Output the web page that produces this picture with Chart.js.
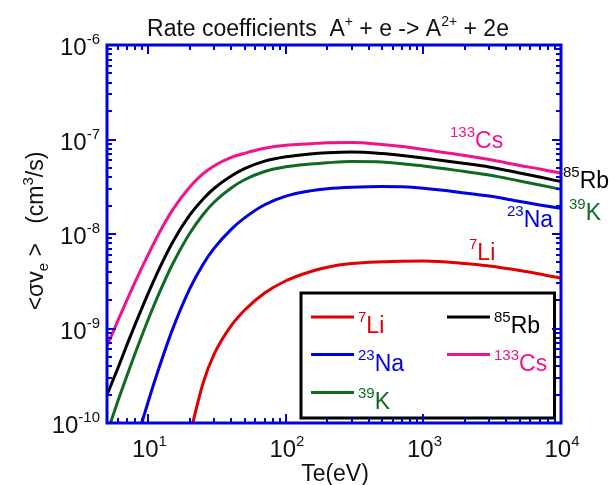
<!DOCTYPE html>
<html><head><meta charset="utf-8">
<script src="https://cdn.jsdelivr.net/npm/chart.js@4.4.0/dist/chart.umd.min.js"></script>
<style>html,body{margin:0;padding:0;background:#fff}</style>
</head><body>
<canvas id="c" width="609" height="485"></canvas>
<script>
// Electron temperature (eV)
const temperatures = [5,6,7,8,9,10,12,15,20,25,30,40,50,70,100,150,200,300,500,700,1000,2000,3000,5000,7000,10000];
// Rate coefficients (cm^3/s)
const li = [null,null,null,null,null,null,null,null,7.5e-11,2.65e-10,5.31e-10,1.07e-9,1.56e-9,2.37e-9,3.20e-9,3.99e-9,4.45e-9,4.86e-9,5.08e-9,5.15e-9,5.17e-9,4.88e-9,4.58e-9,4.11e-9,3.78e-9,3.4e-9];
const na = [null,null,null,5.7e-11,1.03e-10,1.71e-10,3.91e-10,9.84e-10,2.64e-9,4.79e-9,7.05e-9,1.12e-8,1.48e-8,2.04e-8,2.52e-8,2.86e-8,3.01e-8,3.12e-8,3.18e-8,3.16e-8,3.05e-8,2.72e-8,2.52e-8,2.21e-8,2.03e-8,1.87e-8];
const k  = [7.8e-11,1.71e-10,3.21e-10,5.45e-10,8.53e-10,1.26e-9,2.38e-9,4.81e-9,1.02e-8,1.61e-8,2.17e-8,3.07e-8,3.75e-8,4.59e-8,5.15e-8,5.5e-8,5.68e-8,5.85e-8,5.78e-8,5.53e-8,5.25e-8,4.58e-8,4.21e-8,3.64e-8,3.3e-8,2.97e-8];
const rb = [1.98e-10,3.81e-10,6.79e-10,1.10e-9,1.66e-9,2.38e-9,4.30e-9,8.2e-9,1.59e-8,2.35e-8,3.03e-8,4.10e-8,4.91e-8,5.90e-8,6.56e-8,7.03e-8,7.24e-8,7.38e-8,7.11e-8,6.78e-8,6.37e-8,5.57e-8,5.12e-8,4.43e-8,4.01e-8,3.58e-8];
const cs = [6.5e-10,1.21e-9,2.02e-9,3.10e-9,4.47e-9,6.12e-9,1.03e-8,1.80e-8,3.14e-8,4.35e-8,5.25e-8,6.46e-8,7.14e-8,8.07e-8,8.69e-8,9.0e-8,9.25e-8,9.29e-8,8.86e-8,8.43e-8,7.83e-8,6.78e-8,6.14e-8,5.31e-8,4.88e-8,4.39e-8];

const seriesMass = ['7','23','39','85','133'];
const seriesName = ['Li','Na','K','Rb','Cs'];
const xTickValues = [10,100,1000,10000];
const xTickExp = ['1','2','3','4'];
const yTickValues = [1e-6,1e-7,1e-8,1e-9,1e-10];
const yTickExp = ['-6','-7','-8','-9','-10'];
const xMin = 5, xMax = 10000, yMin = 1e-10, yMax = 1e-6;

const COLORS = ['#e00000','#0000e0','#0f6b22','#000000','#f0138a'];
const AXIS = '#0000e0';
const FONT = '"Liberation Sans", Arial, sans-serif';
const MAIN = 23, SMALL = 15, TICK = 24;

const allSeries = [li, na, k, rb, cs];
const datasets = allSeries.map((s, i) => ({
  label: seriesName[i],
  data: temperatures.map((t, j) => ({x: t, y: s[j]})),
  borderColor: COLORS[i],
  borderWidth: 3,
  pointRadius: 0,
  fill: false,
  spanGaps: false,
  cubicInterpolationMode: 'monotone'
}));

function rich(ctx, segs, x, y, align) {
  let w = 0;
  for (const s of segs) { ctx.font = s[1] + 'px ' + FONT; w += ctx.measureText(s[0]).width; }
  let cx = align === 'right' ? x - w : align === 'center' ? x - w / 2 : x;
  for (const s of segs) {
    ctx.font = s[1] + 'px ' + FONT;
    ctx.fillText(s[0], cx, y + (s[2] || 0));
    cx += ctx.measureText(s[0]).width;
  }
  return w;
}

const decor = {
  id: 'decor',
  afterDatasetsDraw(chart) {
    const {ctx, chartArea: a, scales: {x, y}} = chart;
    ctx.save();
    // legend box
    const L = {l: 301, t: 293, r: 554.5, b: 418};
    ctx.fillStyle = '#fff';
    ctx.fillRect(L.l, L.t, L.r - L.l, L.b - L.t);
    ctx.strokeStyle = '#000'; ctx.lineWidth = 3;
    ctx.strokeRect(L.l, L.t, L.r - L.l, L.b - L.t);
    const pos = [[311, 317], [311, 354.5], [311, 392.5], [447, 317], [447, 354.5]];
    ctx.textBaseline = 'alphabetic';
    pos.forEach((p, i) => {
      ctx.strokeStyle = COLORS[i]; ctx.lineWidth = 3;
      ctx.beginPath(); ctx.moveTo(p[0], p[1]); ctx.lineTo(p[0] + 43, p[1]); ctx.stroke();
      ctx.fillStyle = COLORS[i];
      rich(ctx, [[seriesMass[i], SMALL, -11], [seriesName[i], MAIN, 0]], p[0] + 47, p[1] + 16, 'left');
    });
    // frame
    ctx.strokeStyle = AXIS; ctx.lineWidth = 3;
    ctx.strokeRect(a.left, a.top, a.right - a.left, a.bottom - a.top);
    ctx.lineWidth = 2;
    const seg = (x1, y1, x2, y2) => { ctx.beginPath(); ctx.moveTo(x1, y1); ctx.lineTo(x2, y2); ctx.stroke(); };
    for (let d = 0; d <= 4; d++) for (let m = 1; m <= 9; m++) {
      const v = m * Math.pow(10, d);
      if (v <= xMin || v >= xMax) continue;
      const px = Math.round(x.getPixelForValue(v));
      const len = m === 1 ? 9 : 5;
      seg(px, a.bottom, px, a.bottom - len);
      seg(px, a.top, px, a.top + len);
    }
    for (let d = -10; d <= -7; d++) for (let m = 1; m <= 9; m++) {
      const v = m * Math.pow(10, d);
      if (v <= yMin || v >= yMax) continue;
      const py = Math.round(y.getPixelForValue(v));
      const len = m === 1 ? 9 : 5;
      seg(a.left, py, a.left + len, py);
      seg(a.right, py, a.right - len, py);
    }
    ctx.restore();
  },
  afterDraw(chart) {
    const {ctx, chartArea: a, scales: {x, y}} = chart;
    ctx.save();
    ctx.fillStyle = '#111';
    ctx.textBaseline = 'alphabetic';
    // y tick labels
    yTickValues.forEach((v, i) => {
      const py = y.getPixelForValue(v);
      ctx.font = SMALL + 'px ' + FONT;
      const ew = ctx.measureText(yTickExp[i]).width;
      ctx.fillText(yTickExp[i], a.left - 7 - ew, py - 1);
      ctx.font = TICK + 'px ' + FONT;
      const bw = ctx.measureText('10').width;
      ctx.fillText('10', a.left - 7 - ew - bw, py + 10);
    });
    // x tick labels
    xTickValues.forEach((v, i) => {
      const px = x.getPixelForValue(v);
      ctx.font = TICK + 'px ' + FONT;
      const bw = ctx.measureText('10').width;
      ctx.font = SMALL + 'px ' + FONT;
      const ew = ctx.measureText(xTickExp[i]).width;
      const x0 = px - (bw + ew) / 2 + 1;
      ctx.font = TICK + 'px ' + FONT;
      ctx.fillText('10', x0, 457);
      ctx.font = SMALL + 'px ' + FONT;
      ctx.fillText(xTickExp[i], x0 + bw, 446);
    });
    // x title
    ctx.font = MAIN + 'px ' + FONT;
    ctx.textAlign = 'center';
    ctx.fillText('Te(eV)', (a.left + a.right) / 2 + 1, 481);
    ctx.textAlign = 'left';
    // title
    rich(ctx, [['Rate coefficients  A', MAIN, 0], ['+', SMALL - 1, -10], [' + e -> A', MAIN, 0], ['2+', SMALL - 1, -10], [' + 2e', MAIN, 0]], 328, 36, 'center');
    // y title (rotated)
    ctx.translate(43, 231);
    ctx.rotate(-Math.PI / 2);
    rich(ctx, [['<σv', MAIN, 0], ['e', SMALL, 5], [' >   (cm', MAIN, 0], ['3', SMALL, -10], ['/s)', MAIN, 0]], 0, 0, 'center');
    ctx.restore();
    // curve labels
    ctx.save();
    ctx.textBaseline = 'alphabetic';
    const lab = [[469, 260], [507, 227], [569, 220], [563, 188], [450, 148]];
    lab.forEach((p, i) => {
      ctx.fillStyle = COLORS[i];
      rich(ctx, [[seriesMass[i], SMALL, -11], [seriesName[i], MAIN, 0]], p[0], p[1], 'left');
    });
    ctx.restore();
  }
};

new Chart(document.getElementById('c'), {
  type: 'line',
  data: {datasets},
  options: {
    responsive: false,
    animation: false,
    layout: {padding: {left: 107, top: 45, right: 48, bottom: 62}},
    plugins: {legend: {display: false}, title: {display: false}, tooltip: {enabled: false}},
    scales: {
      x: {type: 'logarithmic', min: xMin, max: xMax, display: false},
      y: {type: 'logarithmic', min: yMin, max: yMax, display: false}
    }
  },
  plugins: [decor]
});
</script>
</body></html>
